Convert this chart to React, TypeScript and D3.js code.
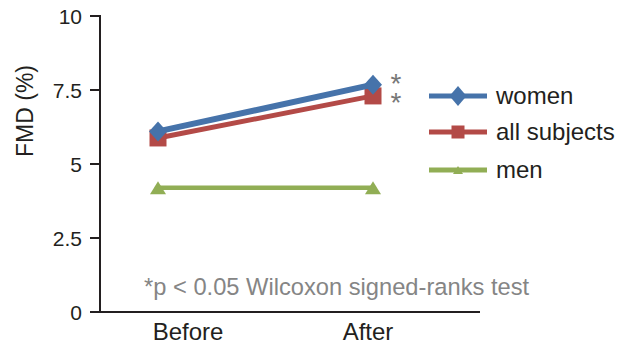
import React from "react";
import * as d3 from "d3";

const categories = ["Before", "After"];
const seriesNames = ["women", "all subjects", "men"];
const women = [6.1, 7.68];
const allSubjects = [5.88, 7.3];
const men = [4.2, 4.2];
const yTicks = [0, 2.5, 5, 7.5, 10];
const yTickLabels = ["0", "2.5", "5", "7.5", "10"];
const colors = ["#4673AA", "#B34A47", "#91AE55"];
const markers = ["diamond", "square", "triangle"];

const W = 626, H = 343;
const left = 100, right = 480, top = 16, bottom = 312;

function Marker({ type, x, y, color, w, h }: any) {
  if (type === "diamond") {
    return <path d={`M${x},${y - h}L${x + w},${y}L${x},${y + h}L${x - w},${y}Z`} fill={color} />;
  }
  if (type === "square") {
    return <rect x={x - w} y={y - h} width={2 * w} height={2 * h} fill={color} />;
  }
  return <path d={`M${x},${y - h}L${x + w},${y + h}L${x - w},${y + h}Z`} fill={color} />;
}

const chartMarker = [
  { w: 9, h: 10 },
  { w: 8.5, h: 8.5 },
  { w: 8, h: 6.5 },
];
const legendMarker = [
  { w: 8.5, h: 10 },
  { w: 6.5, h: 6.5 },
  { w: 5, h: 4 },
];
const lineWidths = [6, 5, 4.5];

export default function App() {
  const x = d3.scalePoint().domain(categories).range([158, 373]);
  const xLab = d3.scaleBand().domain(categories).range([98, 458]);
  const y = d3.scaleLinear().domain([0, 10]).range([bottom, top]);
  const data = [women, allSubjects, men];
  const line = d3.line<number>().x((_, i) => x(categories[i])!).y((d) => y(d));
  const font = "'Liberation Sans', Arial, sans-serif";
  const legendY = [96, 132, 170];
  return (
    <svg width={W} height={H} style={{ position: "absolute", left: 0, top: 0 }} fontFamily={font}>
      <rect width={W} height={H} fill="#fff" />
      <line x1={left} x2={left} y1={top - 1} y2={bottom} stroke="#231F20" strokeWidth={2} />
      <line x1={left - 1} x2={right} y1={bottom} y2={bottom} stroke="#231F20" strokeWidth={2} />
      {yTicks.map((t, i) => (
        <g key={t}>
          <line x1={left - 10} x2={left} y1={y(t)} y2={y(t)} stroke="#231F20" strokeWidth={2} />
          <text x={82} y={y(t) + 7.5} textAnchor="end" fontSize={21} fill="#231F20">{yTickLabels[i]}</text>
        </g>
      ))}
      <text transform={`translate(33,${111}) rotate(-90)`} textAnchor="middle" fontSize={23} fill="#231F20">FMD (%)</text>
      {categories.map((c) => (
        <text key={c} x={xLab(c)! + xLab.bandwidth() / 2} y={340} textAnchor="middle" fontSize={24} fill="#231F20">{c}</text>
      ))}
      {[2, 1, 0].map((si) => (
        <g key={si}>
          <path d={line(data[si])!} fill="none" stroke={colors[si]} strokeWidth={lineWidths[si]} />
          {data[si].map((v, i) => (
            <Marker key={i} type={markers[si]} x={x(categories[i])} y={y(v)} color={colors[si]} {...chartMarker[si]} />
          ))}
        </g>
      ))}
      <text textAnchor="middle" fontSize={28} fill="#777">
        <tspan x={396} y={93}>*</tspan>
        <tspan x={396} y={112}>*</tspan>
      </text>
      {seriesNames.map((n, i) => (
        <g key={n}>
          <line x1={429} x2={487} y1={legendY[i]} y2={legendY[i]} stroke={colors[i]} strokeWidth={5} />
          <Marker type={markers[i]} x={458} y={legendY[i]} color={colors[i]} {...legendMarker[i]} />
          <text x={496} y={legendY[i] + 7.5} fontSize={24} fill="#231F20">{n}</text>
        </g>
      ))}
      <text x={144} y={295} fontSize={23.7} fill="#858585">*p &lt; 0.05 Wilcoxon signed-ranks test</text>
    </svg>
  );
}
